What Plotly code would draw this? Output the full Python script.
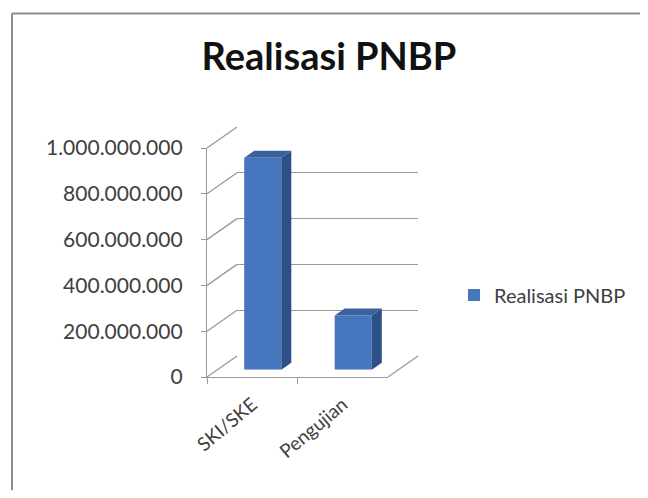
import plotly.graph_objects as go

# ---------------- data ----------------
categories = ["SKI/SKE", "Pengujian"]
values = [925000000, 236000000]
series_name = "Realisasi PNBP"
chart_title = "Realisasi PNBP"
y_ticks = [0, 200000000, 400000000, 600000000, 800000000, 1000000000]
y_max = 1000000000

# ---------------- layout geometry (window pixels) ----------------
BODY = 8                      # default page margin around the figure
W, H = 648 - 2 * BODY, 498 - 2 * BODY
def px(x):
    return (x - BODY) / W
def py(y):
    return 1 - (y - BODY) / H

FX0, FX1 = 207, 388      # front floor edge (left/right)
FY0, FY1 = 377, 148      # front value 0 / value max
DX, DY = 30, -21         # depth of the 3D box
BF = 0.35                # bar front depth fraction
BT = 1 / 3               # bar thickness (depth) fraction
BARGAP = 0.59

FRONT = "#4677BE"
SIDE = "#2D5187"
TOP = "#3A62A0"
GRID = "#9A9A9A"
TXT = "#404040"

ncat = len(categories)
cat_range = [-0.5, ncat - 0.5]

fig = go.Figure()

# back wall subplot (gridlines)
fig.add_trace(go.Scatter(x=categories, y=values, xaxis="x2", yaxis="y2", mode="none",
                         showlegend=False, hoverinfo="skip"))
# front axes (ticks and labels)
fig.add_trace(go.Scatter(x=categories, y=values, xaxis="x", yaxis="y", mode="none",
                         showlegend=False, hoverinfo="skip"))
# bars (front faces)
fig.add_trace(go.Bar(x=categories, y=values, xaxis="x3", yaxis="y3", name=series_name,
                     marker=dict(color=FRONT, line=dict(width=0)), showlegend=True))

shapes = []

# left wall diagonals
for v in y_ticks:
    yf = FY0 - v / y_max * (FY0 - FY1)
    shapes.append(dict(type="line", xref="paper", yref="paper",
                       x0=px(FX0), y0=py(yf), x1=px(FX0 + DX), y1=py(yf + DY),
                       line=dict(color=GRID, width=1.3), layer="below"))
# right floor diagonal
shapes.append(dict(type="line", xref="paper", yref="paper",
                   x0=px(FX1), y0=py(FY0), x1=px(FX1 + DX), y1=py(FY0 + DY),
                   line=dict(color=GRID, width=1.3), layer="below"))

catw = (FX1 - FX0) / ncat

# 3D side and top faces of bars, derived from the data
bx0 = FX0 + BF * DX
by0 = FY0 + BF * DY
hw = (1 - BARGAP) * catw / 2
ddx, ddy = BT * DX, BT * DY
for i, v in enumerate(values):
    c = bx0 + (i + 0.5) * catw
    xl, xr = c - hw, c + hw
    yt = by0 - v / y_max * (FY0 - FY1)
    yb = by0
    side = (f"M{px(xr)},{py(yb)} L{px(xr + ddx)},{py(yb + ddy)} "
            f"L{px(xr + ddx)},{py(yt + ddy)} L{px(xr)},{py(yt)} Z")
    top = (f"M{px(xl)},{py(yt)} L{px(xl + ddx)},{py(yt + ddy)} "
           f"L{px(xr + ddx)},{py(yt + ddy)} L{px(xr)},{py(yt)} Z")
    shapes.append(dict(type="path", xref="paper", yref="paper", path=side,
                       fillcolor=SIDE, line=dict(width=0)))
    shapes.append(dict(type="path", xref="paper", yref="paper", path=top,
                       fillcolor=TOP, line=dict(width=0)))

# outer frame
shapes.append(dict(type="line", xref="paper", yref="paper", x0=px(12), y0=py(13.5), x1=1, y1=py(13.5),
                   line=dict(color="#8C8C8C", width=2)))
shapes.append(dict(type="line", xref="paper", yref="paper", x0=px(12), y0=py(13.5), x1=px(12), y1=0,
                   line=dict(color="#8C8C8C", width=2)))

fig.update_layout(
    width=W, height=H,
    autosize=False,
    margin=dict(l=0, r=0, t=0, b=0, pad=0),
    paper_bgcolor="white",
    plot_bgcolor="rgba(0,0,0,0)",
    separators=",.",
    shapes=shapes,
    title=dict(text=f"<b>{chart_title}</b>", x=px(329), y=py(57), xref="paper", yref="paper",
               xanchor="center", yanchor="middle", automargin=False,
               font=dict(family="Lato", size=38, color="#111111")),
    legend=dict(x=px(454), y=py(295), xanchor="left", yanchor="middle",
                font=dict(family="Lato", size=20, color=TXT), bgcolor="rgba(0,0,0,0)"),
    bargap=BARGAP,
    xaxis=dict(domain=[px(FX0), px(FX1)], anchor="y", type="category", automargin=False,
               categoryorder="array", categoryarray=categories, range=cat_range,
               showline=True, linecolor=GRID, linewidth=1.3, showgrid=False, zeroline=False,
               ticks="outside", tickson="boundaries", ticklen=6, tickcolor=GRID, tickwidth=1.3,
               ticklabelstandoff=8,
               tickangle=-40, tickfont=dict(family="Lato", size=19, color=TXT)),
    yaxis=dict(domain=[py(FY0), py(FY1)], anchor="x", range=[0, y_max], automargin=False,
               showline=True, linecolor=GRID, linewidth=1.3, showgrid=False, zeroline=False,
               ticks="outside", ticklen=5, tickcolor=GRID, tickwidth=1.3, tickvals=y_ticks,
               tickformat=",d", ticklabelstandoff=14,
               tickfont=dict(family="Lato", size=21, color=TXT)),
    xaxis2=dict(domain=[px(FX0 + DX), px(FX1 + DX)], anchor="y2", type="category", automargin=False,
                categoryorder="array", categoryarray=categories, range=cat_range,
                showline=False, showgrid=False, zeroline=False, showticklabels=False, ticks=""),
    yaxis2=dict(domain=[py(FY0 + DY), py(FY1 + DY)], anchor="x2", range=[0, y_max], automargin=False,
                showline=False, showgrid=True, gridcolor=GRID, gridwidth=1.3, zeroline=False,
                showticklabels=False, ticks="", tickvals=y_ticks),
    xaxis3=dict(domain=[px(bx0), px(bx0 + FX1 - FX0)], anchor="y3", type="category",
                categoryorder="array", categoryarray=categories, range=cat_range,
                visible=False, automargin=False),
    yaxis3=dict(domain=[py(by0), py(by0 - (FY0 - FY1))], anchor="x3", range=[0, y_max],
                visible=False, automargin=False),
)

fig.write_html("out.html")
